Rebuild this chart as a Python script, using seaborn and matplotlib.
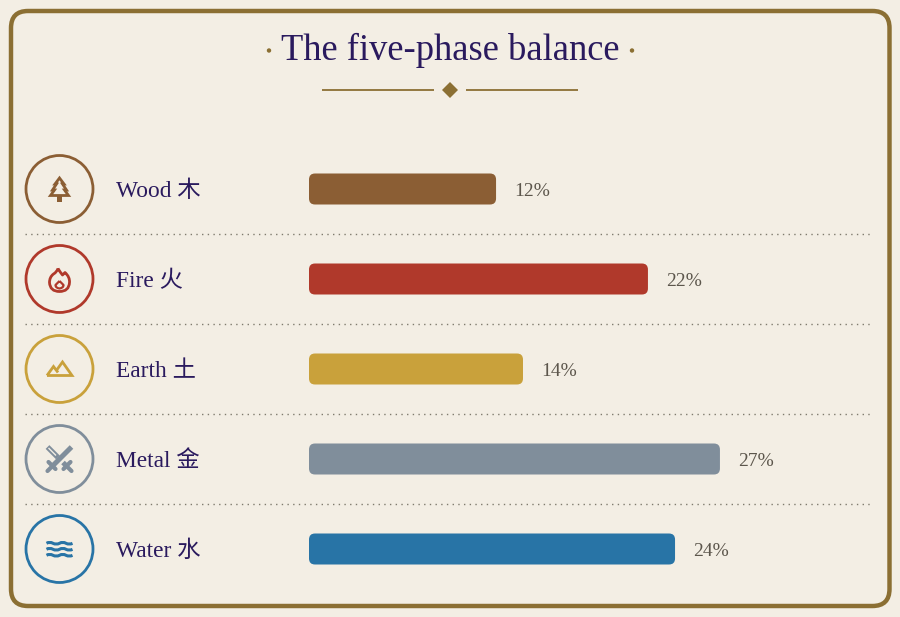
import matplotlib
matplotlib.use("Agg")
import matplotlib.pyplot as plt
import pandas as pd
import seaborn as sns
from matplotlib.patches import Circle, FancyBboxPatch, PathPatch, Polygon, Rectangle
from matplotlib.path import Path
from matplotlib.transforms import IdentityTransform, blended_transform_factory

phases = ["Wood 木", "Fire 火", "Earth 土", "Metal 金", "Water 水"]
values = [12.29, 22.27, 14.06, 27.0, 24.05]
value_labels = ["12%", "22%", "14%", "27%", "24%"]
colors = ["#8B5E34", "#B0392B", "#C9A13B", "#808E9B", "#2874A6"]
title = "The five-phase balance"

PAPER = "#F3EEE4"
GOLD = "#8B6F33"
INK = "#2A1A5E"
GREY = "#5C564C"
FONT = ["Liberation Serif", "Noto Sans CJK SC", "DejaVu Serif"]

sns.set_theme(style="white")
plt.rcParams["font.family"] = FONT

W, H = 900, 617
fig = plt.figure(figsize=(W / 100, H / 100), dpi=100, facecolor=PAPER)

# decoration layer in pixel coordinates
deco = fig.add_axes([0, 0, 1, 1], zorder=0)
deco.set_xlim(0, W)
deco.set_ylim(H, 0)
deco.axis("off")

deco.add_patch(FancyBboxPatch((11, 11), 878.5, 595,
                              boxstyle="round,pad=0,rounding_size=17",
                              fc=PAPER, ec=GOLD, lw=3.2))
deco.text(450, 60, title, ha="center", va="baseline", color=INK, fontsize=26.3)
for x in (269, 632):
    deco.add_patch(Circle((x, 50.5), 2.2, fc=GOLD, ec="none"))
for x0, x1 in ((322, 434), (466, 578)):
    deco.plot([x0, x1], [90, 90], color=GOLD, lw=1.3, solid_capstyle="butt")
deco.add_patch(Polygon([(450, 82), (458, 90), (450, 98), (442, 90)], fc=GOLD, ec="none"))

# bar layer, whose axes span the five rows
L, R, T, B = 309, 870, 144, 594
ax = fig.add_axes([L / W, 1 - B / H, (R - L) / W, (B - T) / H], zorder=1)
ax.patch.set_alpha(0)
frame = pd.DataFrame({"phase": phases, "share": values})
sns.barplot(data=frame, x="share", y="phase", hue="phase", palette=colors,
            order=phases, hue_order=phases, legend=False, width=31 / 90,
            saturation=1, ax=ax)
ax.set_xlim(0, (R - L) / 15.22)
ax.set_ylim(len(phases) - 0.5, -0.5)
ax.axis("off")
fig.canvas.draw()

# the bars keep their scaled geometry and get rounded corners
for bar in list(ax.patches):
    (x0, y0), (x1, y1) = ax.transData.transform(
        [(bar.get_x(), bar.get_y()), (bar.get_x() + bar.get_width(), bar.get_y() + bar.get_height())])
    ax.add_artist(FancyBboxPatch((min(x0, x1), min(y0, y1)), abs(x1 - x0), abs(y1 - y0),
                                 boxstyle="round,pad=0,rounding_size=6", transform=IdentityTransform(),
                                 fc=bar.get_facecolor(), ec="none", clip_on=False))
    bar.set_visible(False)

label_tf = blended_transform_factory(ax.transAxes, ax.transData)
px = 0.72
for i, (name, v, lab) in enumerate(zip(phases, values, value_labels)):
    ax.annotate(name, ((116 - L) / (R - L), i), xycoords=label_tf, xytext=(0, -8 * px),
                textcoords="offset points", ha="left", va="baseline",
                color=INK, fontsize=16.8, annotation_clip=False)
    ax.annotate(lab, (v, i), xytext=(18 * px, -6.5 * px), textcoords="offset points",
                ha="left", va="baseline", color=GREY, fontsize=14)


def row_y(i):
    return T + (i + 0.5) * (B - T) / len(phases)


for i, c in enumerate(colors):
    y = row_y(i)
    deco.add_patch(Circle((59.5, y), 33.5, fc="none", ec=c, lw=2.0))
    if i < len(colors) - 1:
        deco.plot([25, 870], [y + 45, y + 45], color="#7F7B6E", lw=1.0, ls=(0, (1, 3.1)))


def outline(cx, cy, verts, codes, color, lw=1.5, fill="none", join="miter"):
    pts = [(cx + a, cy + b) for a, b in verts]
    deco.add_patch(PathPatch(Path(pts, codes), fc=fill, ec=color, lw=lw,
                             joinstyle=join, capstyle="butt"))


M, L2, C3, CL = Path.MOVETO, Path.LINETO, Path.CURVE3, Path.CLOSEPOLY

# wood: tree
cx, cy = 59.5, row_y(0)
tree = [(0, -11), (4.5, -5), (3, -5), (7, 1), (5, 1), (9, 6.5), (-9, 6.5), (-5, 1),
        (-7, 1), (-3, -5), (-4.5, -5), (0, -11)]
outline(cx, cy, tree, [M] + [L2] * 10 + [CL], colors[0], lw=2.0)
deco.add_patch(Rectangle((cx - 2.4, cy + 7), 4.8, 6, fc=colors[0], ec="none"))

# fire: flame
cx, cy = 59.5, row_y(1) + 1
flame = [(-1.5, -11.5), (0.5, -8), (3, -5), (5.5, -7.5), (10.5, -3), (10, 2.5),
         (9.5, 11.5), (0, 11.5), (-9.5, 11.5), (-10, 2.5), (-10, -3), (-6, -6),
         (-2.5, -8), (-1.5, -11.5)]
outline(cx, cy, flame, [M, C3, C3, L2] + [C3] * 10, colors[1], lw=2.0, join="round")
inner = [(0, 1), (2, 3), (4, 5), (4, 8), (0, 8.5), (-4, 8), (-4, 5), (-2, 3), (0, 1)]
outline(cx, cy, inner, [M] + [C3] * 8, colors[1], lw=1.6, join="round")

# earth: mountains
cx, cy = 59.5, row_y(2)
outline(cx, cy, [(-12.5, 6.5), (-6, -2.5), (-1.5, 3.5)], [M, L2, L2], colors[2], lw=2.0)
outline(cx, cy, [(-12.5, 6.5), (12.5, 6.5), (3, -7), (-3.5, 2)], [M, L2, L2, L2], colors[2], lw=2.0)

# metal: crossed swords
cx, cy = 59.5, row_y(3)
m = colors[3]
deco.plot([cx + 12, cx - 7], [cy - 12, cy + 7], color=m, lw=3.6, solid_capstyle="butt")
deco.plot([cx - 12, cx - 1.5], [cy - 12, cy - 1.5], color=m, lw=3.8, solid_capstyle="butt")
deco.plot([cx + 3.5, cx + 7], [cy + 3.5, cy + 7], color=m, lw=3.6, solid_capstyle="butt")
for sx in (-1, 1):
    deco.plot([cx + sx * 11, cx + sx * 4], [cy + 3, cy + 10], color=m, lw=3.0, solid_capstyle="round")
    deco.plot([cx + sx * 7, cx + sx * 12], [cy + 7, cy + 12], color=m, lw=3.0, solid_capstyle="round")
deco.plot([cx - 11, cx - 3.5], [cy - 11, cy - 3.5], color=PAPER, lw=1.0, solid_capstyle="butt")

# water: three waves
cx, cy = 59.5, row_y(4)
for off in (-6, 0, 6):
    v = [(-13, off + 0.3), (-10, off - 1.7), (-6.5, off + 0.3), (-3.2, off + 2), (0, off + 0.3),
         (3.2, off - 1.7), (6.5, off + 0.3), (10, off + 2), (13, off + 0.3)]
    outline(cx, cy, v, [M] + [C3] * 8, colors[4], lw=2.2, join="round")

fig.savefig("out.png", dpi=100, facecolor=PAPER)
